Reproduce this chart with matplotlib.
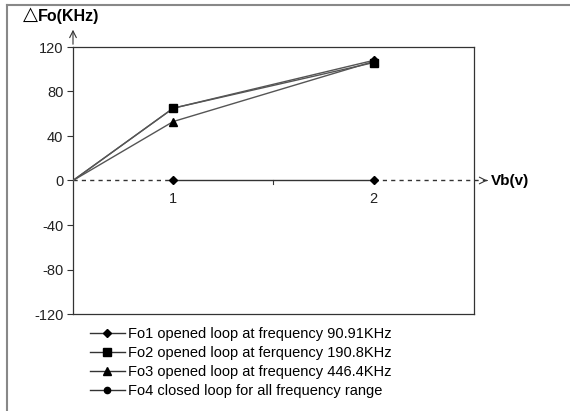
import matplotlib
matplotlib.use("Agg")
import matplotlib.pyplot as plt
from matplotlib.lines import Line2D

plt.rcParams['font.family'] = ['Liberation Sans', 'DejaVu Sans']

vb = [1, 2]
fo1 = [65, 108]
fo2 = [65, 106]
fo3 = [53, 107]
fo4 = [0, 0]
yticks = [-120, -80, -40, 0, 40, 80, 120]
xticklabels = ['1', '2']
labels = ['Fo1 opened loop at frequency 90.91KHz',
          'Fo2 opened loop at ferquency 190.8KHz',
          'Fo3 opened loop at frequency 446.4KHz',
          'Fo4 closed loop for all frequency range']

W, H = 570, 411
fig = plt.figure(figsize=(W/100, H/100), dpi=100)
ax = fig.add_axes([73/W, 1-314/H, (474-73)/W, (314-47)/H])
ax.set_xlim(0.5, 2.5)
ax.set_ylim(-120, 120)
x0 = ax.get_xlim()[0]

series = [(fo1, 'D', 4.5), (fo2, 's', 5.5), (fo3, '^', 6), (fo4, 'o', 4.5)]
handles = []
for (vals, mk, ms), lab in zip(series, labels):
    if vals is fo4:
        ax.plot(vb, vals, color='#333333', lw=1.0, marker='D', ms=ms,
                mfc='black', mec='black', zorder=4, clip_on=False)
    else:
        ax.plot([x0] + vb, [0] + vals, color='#555555', lw=1.0, zorder=3)
        ax.plot(vb, vals, ls='none', marker=mk, ms=ms, mfc='black',
                mec='black', zorder=5, clip_on=False)
    handles.append(Line2D([], [], color='#333333', lw=1.0, marker=mk,
                          ms=ms, mfc='black', mec='black'))

# dashed zero axis with arrow
ax.plot([x0, vb[0]], [0, 0], color='#333333', lw=1.0, ls=(0, (3, 3)), zorder=2)
ax.plot([vb[-1], 2.58], [0, 0], color='#333333', lw=1.0, ls=(0, (3, 3)),
        zorder=2, clip_on=False)
ax.annotate('', xy=(2.58, 0), xytext=(2.55, 0),
            arrowprops=dict(arrowstyle='->', color='#333333', lw=0.8,
                            mutation_scale=12), annotation_clip=False)
ax.text(2.585, 0, 'Vb(v)', fontsize=11, fontweight='bold', va='center',
        ha='left', transform=ax.transData, clip_on=False)

# y-axis arrow
ax.annotate('', xy=(0, 1.075), xytext=(0, 1.0), xycoords='axes fraction',
            arrowprops=dict(arrowstyle='->', color='#333333', lw=0.8,
                            mutation_scale=12), annotation_clip=False)
fig.text(23/W, 1-14/H, '\u25b3', fontsize=14, ha='left', va='center',
         family=['DejaVu Sans'])
fig.text(38/W, 1-17/H, 'Fo(KHz)', fontsize=11.5, fontweight='bold',
         ha='left', va='center')

ax.set_yticks(yticks)
ax.set_yticklabels([str(t) for t in yticks], fontsize=10.5, color='#222222')
ax.set_xticks([])
ax.tick_params(axis='y', length=4, width=0.8, color='#333333', pad=3)
for s in ax.spines.values():
    s.set_color('#333333')
    s.set_linewidth(0.9)

# category ticks on zero axis
ax.plot([1.5, 1.5], [0, -3], color='#333333', lw=0.8)
for xv, lab in zip(vb, xticklabels):
    ax.text(xv, -17, lab, ha='center', va='center', fontsize=10.5,
            color='#222222')

leg = fig.legend(handles, labels, loc='upper left',
                 bbox_to_anchor=(84/W, 1-321/H), frameon=False,
                 fontsize=10.5, handlelength=2.4, handletextpad=0.25,
                 labelspacing=0.35, borderaxespad=0)

# outer frame (left and top only)
fig.add_artist(Line2D([7/W, 7/W], [0, 1-5/H], color='#888888', lw=1.5,
                      transform=fig.transFigure))
fig.add_artist(Line2D([7/W, 1], [1-5/H, 1-5/H], color='#888888', lw=1.5,
                      transform=fig.transFigure))

fig.savefig('out.png', dpi=100)
